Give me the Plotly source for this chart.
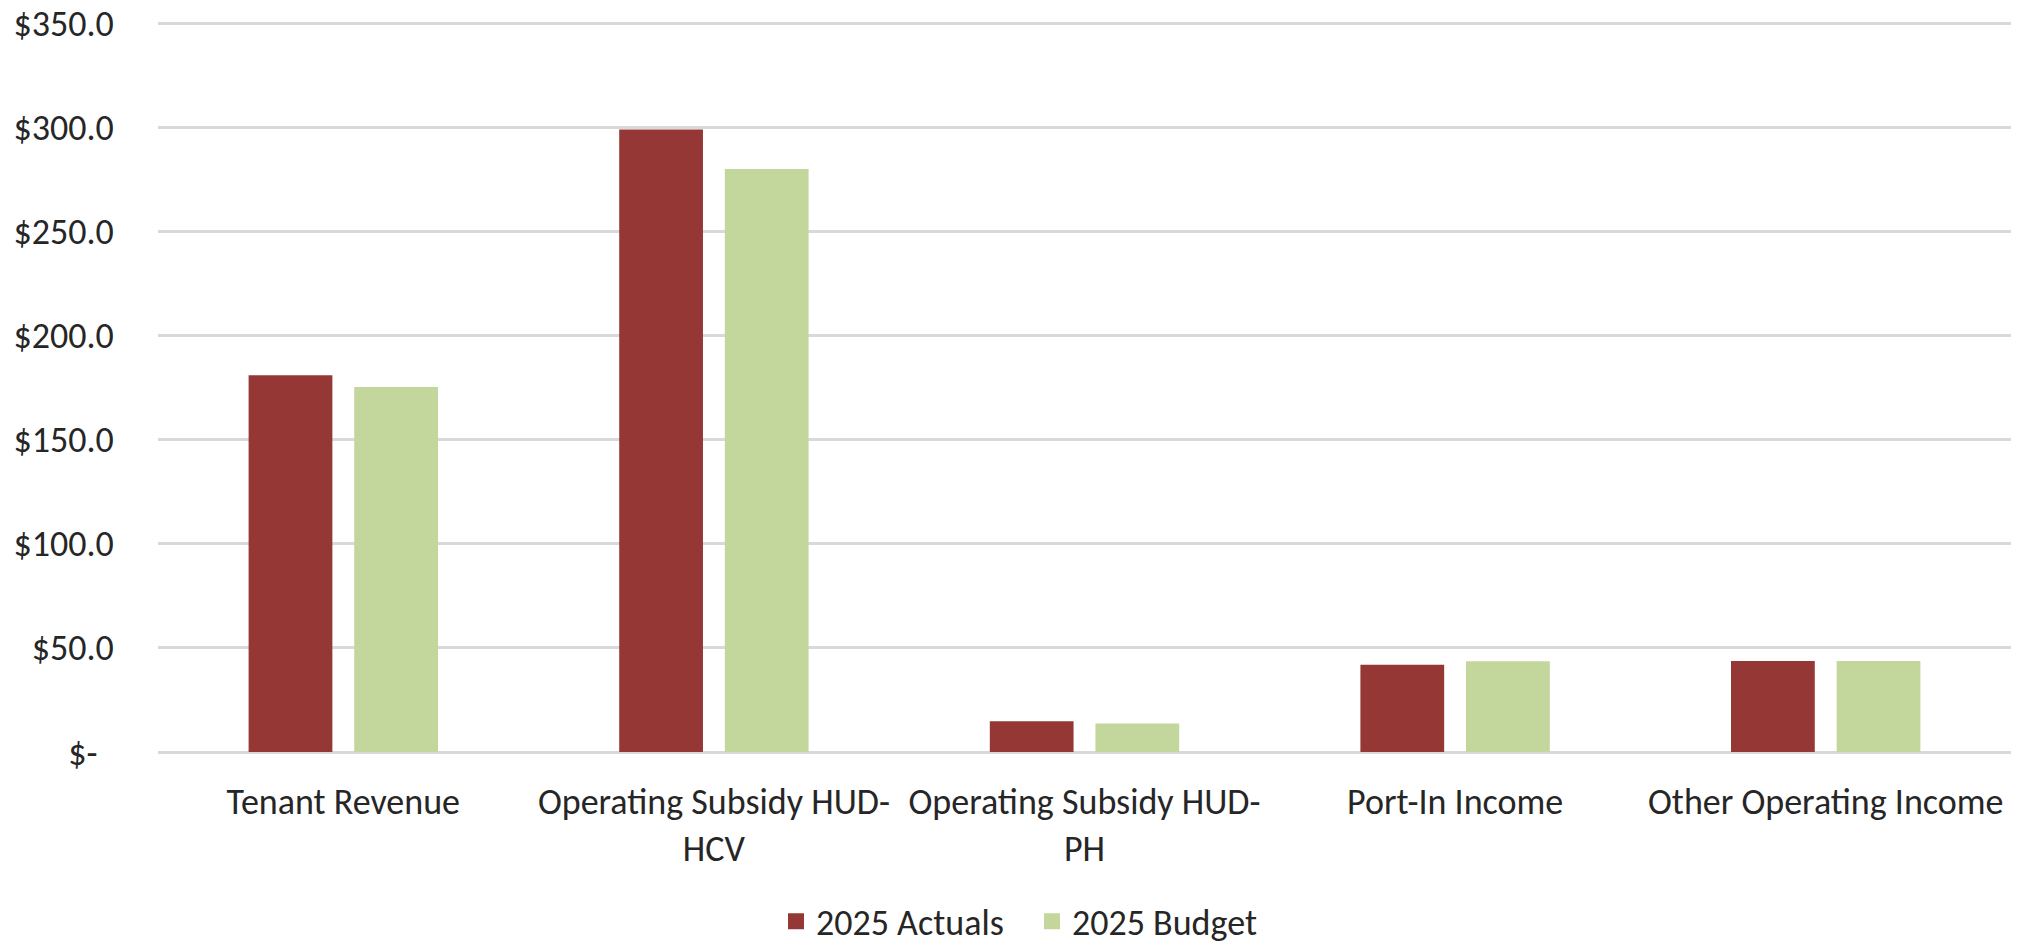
import plotly.graph_objects as go

# Revenue by source, in $ thousands
categories = [
    "Tenant Revenue",
    "Operating Subsidy HUD-<br>HCV",
    "Operating Subsidy HUD-<br>PH",
    "Port-In Income",
    "Other Operating Income",
]
actuals_2025 = [181.0, 299.0, 14.8, 41.9, 43.7]
budget_2025 = [175.3, 280.0, 13.7, 43.6, 43.7]

series_names = ["2025 Actuals", "2025 Budget"]
series_colors = ["#953735", "#C3D69B"]

y_tick_values = [0, 50, 100, 150, 200, 250, 300, 350]
y_tick_labels = ["$-\u00a0\u00a0", "$50.0", "$100.0", "$150.0", "$200.0",
                 "$250.0", "$300.0", "$350.0"]

FONT = "Calibri, Carlito, Lato, sans-serif"
TEXT = "#262626"
GRID = "#D9D9D9"

fig = go.Figure()
for name, values, color in zip(series_names, [actuals_2025, budget_2025], series_colors):
    fig.add_trace(go.Bar(
        name=name, x=categories, y=values, showlegend=False,
        marker=dict(color=color, line=dict(width=0)),
    ))

# Legend entries with larger square swatches
for name, color in zip(series_names, series_colors):
    fig.add_trace(go.Scatter(
        name=name, x=[None], y=[None], mode="markers",
        marker=dict(symbol="square", size=20, color=color),
        showlegend=True, hoverinfo="skip",
    ))

fig.update_layout(
    width=2025, height=947,
    margin=dict(l=158, r=14, t=22, b=195),
    paper_bgcolor="white", plot_bgcolor="white",
    barmode="group", bargap=0.43, bargroupgap=0.207,
    font=dict(family=FONT, size=36, color=TEXT),
    showlegend=True,
    legend=dict(
        orientation="h", xref="container", yref="container",
        x=776 / 2025, y=0.027, xanchor="left", yanchor="middle",
        font=dict(family=FONT, size=36, color=TEXT),
        itemwidth=30, itemsizing="trace", traceorder="normal",
        entrywidth=211, entrywidthmode="pixels",
    ),
    xaxis=dict(
        automargin=False,
        showgrid=False, showline=False, zeroline=False,
        ticks="outside", ticklen=18, tickcolor="rgba(0,0,0,0)",
        tickfont=dict(family=FONT, size=36, color=TEXT),
    ),
    yaxis=dict(
        automargin=False,
        range=[0, 350.6], tickvals=y_tick_values, ticktext=y_tick_labels,
        showgrid=True, gridcolor=GRID, gridwidth=3,
        zeroline=True, zerolinecolor=GRID, zerolinewidth=3,
        showline=False,
        ticks="outside", ticklen=36, tickcolor="rgba(0,0,0,0)",
        tickfont=dict(family=FONT, size=36, color=TEXT),
    ),
)

fig.write_html("out.html")
